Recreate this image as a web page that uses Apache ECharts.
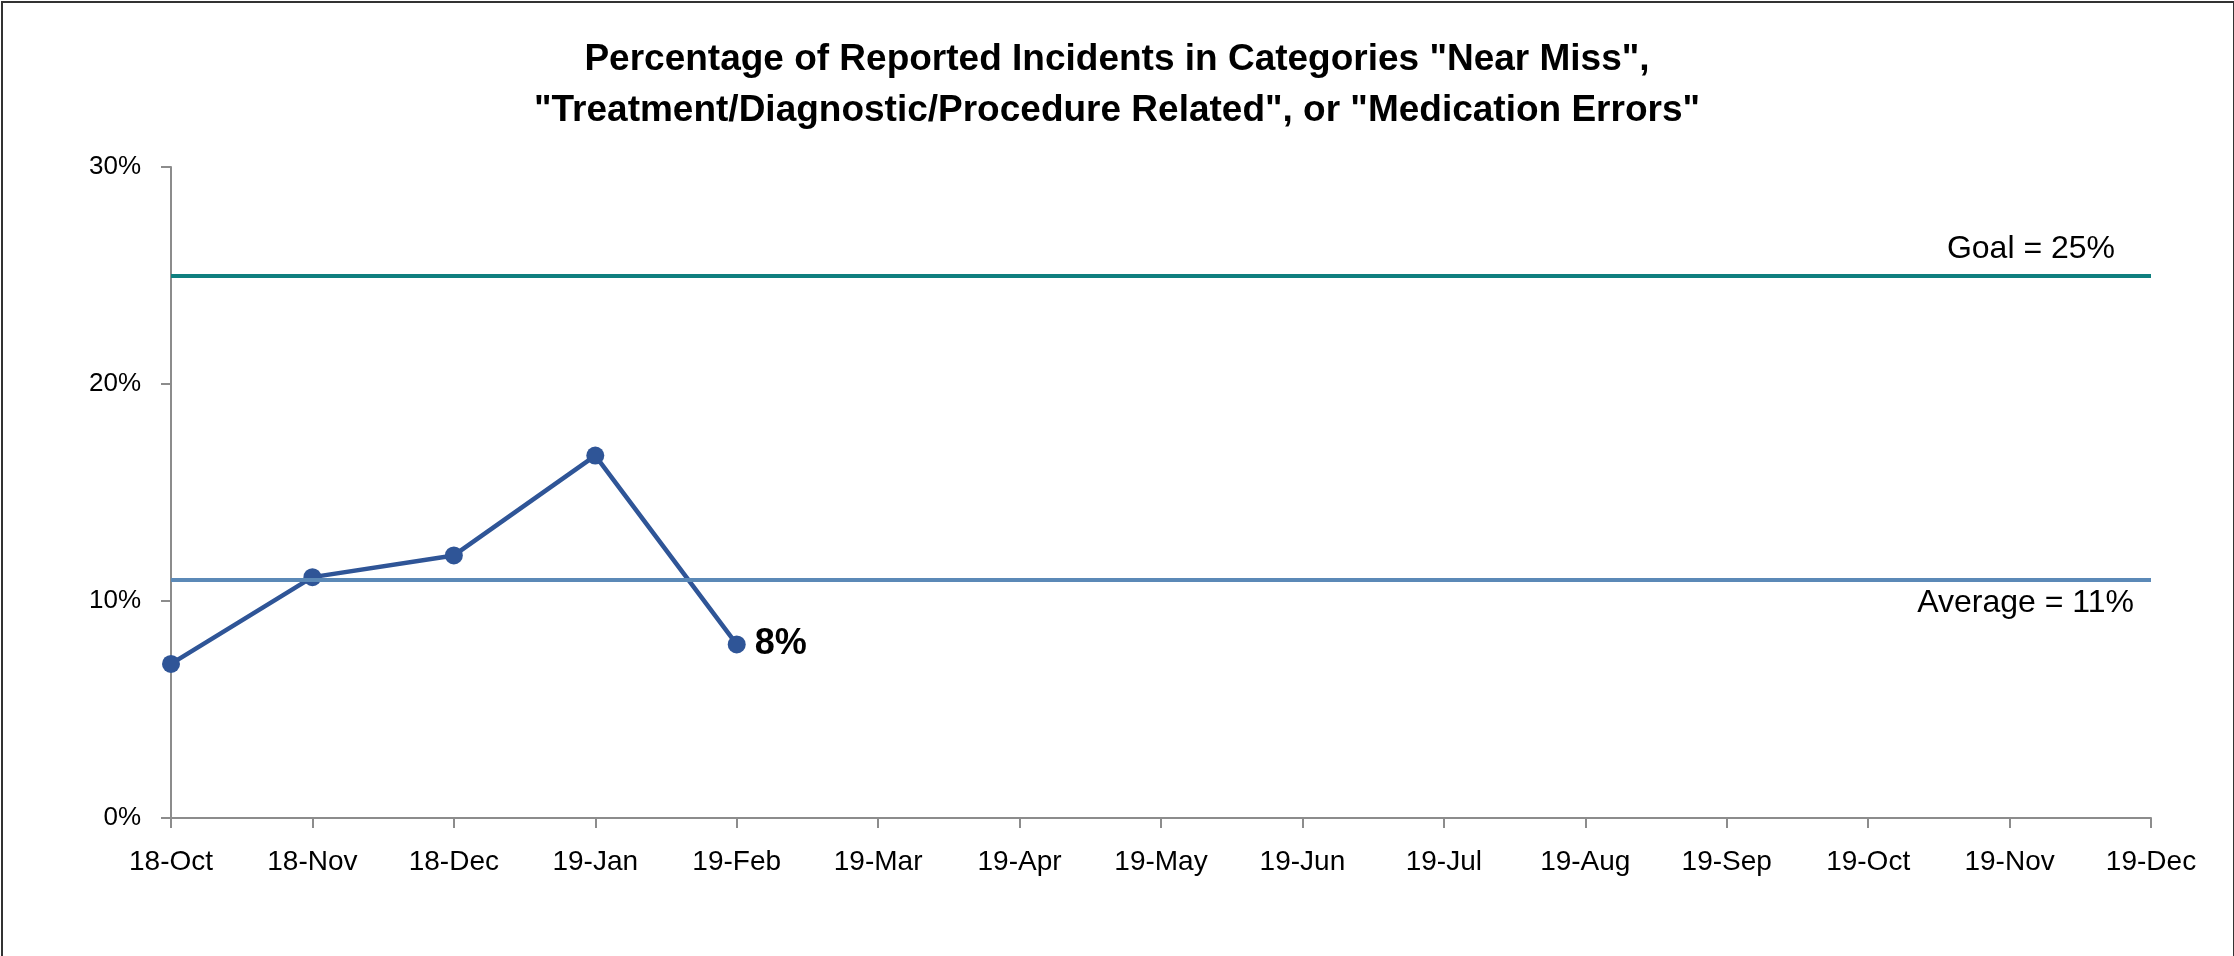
<!DOCTYPE html>
<html>
<head>
<meta charset="utf-8">
<script src="https://cdn.jsdelivr.net/npm/echarts@6/dist/echarts.min.js"></script>
<style>
html, body { margin: 0; padding: 0; background: #fff; overflow: hidden; }
.frame {
	position: absolute;
	left: 1px;
	top: 1px;
	width: 2230px;
	height: 960px;
	border: 2px solid #333;
	border-bottom: none;
}
#chart { position: absolute; left: 0; top: 0; width: 2234px; height: 956px; }
</style>
</head>
<body>
<div class="frame"></div>
<div id="chart"></div>
<script>
// data
var months = ['18-Oct', '18-Nov', '18-Dec', '19-Jan', '19-Feb', '19-Mar', '19-Apr', '19-May',
	'19-Jun', '19-Jul', '19-Aug', '19-Sep', '19-Oct', '19-Nov', '19-Dec'];
var pct = [7.1, 11.1, 12.1, 16.7, 8.0];
var goal = 25;
var average = 11;

var chartDom = document.getElementById('chart');
var myChart = echarts.init(chartDom);
var option;
var font = '"Liberation Sans", Arial, sans-serif';

option = {
	animation: false,
	title: {
		text: 'Percentage of Reported Incidents in Categories "Near Miss",\n"Treatment/Diagnostic/Procedure Related", or "Medication Errors"',
		left: 'center',
		top: 29,
		textStyle: {
			fontFamily: font,
			fontWeight: 'bold',
			fontSize: 37,
			lineHeight: 51,
			color: '#000',
		},
	},
	grid: {
		left: 171,
		right: 83,
		top: 167,
		bottom: 138,
	},
	xAxis: {
		type: 'category',
		data: months,
		boundaryGap: false,
		axisLine: { lineStyle: { color: '#8c8c8c', width: 2 } },
		axisTick: { length: 10, lineStyle: { color: '#8c8c8c', width: 2 } },
		axisLabel: {
			margin: 30,
			fontFamily: font,
			fontSize: 28,
			color: '#000',
			interval: 0,
		},
	},
	yAxis: {
		type: 'value',
		min: 0,
		max: 30,
		interval: 10,
		splitLine: { show: false },
		axisLine: { show: true, lineStyle: { color: '#8c8c8c', width: 2 } },
		axisTick: { show: true, length: 10, lineStyle: { color: '#8c8c8c', width: 2 } },
		axisLabel: {
			margin: 30,
			fontFamily: font,
			fontSize: 26,
			color: '#000',
			formatter: '{value}%',
		},
	},
	series: [
		{
			type: 'line',
			data: pct,
			symbol: 'circle',
			symbolSize: 18,
			lineStyle: { color: '#2f5597', width: 4.5 },
			itemStyle: { color: '#2f5597' },
			label: {
				show: true,
				position: 'right',
				distance: 9,
				fontFamily: font,
				fontWeight: 'bold',
				fontSize: 36,
				color: '#000',
				formatter: function (p) {
					return p.dataIndex === pct.length - 1 ? Math.round(p.value) + '%' : '';
				},
			},
			markLine: {
				silent: true,
				symbol: 'none',
				data: [
					{
						yAxis: goal,
						lineStyle: { color: '#0f7f7f', width: 4, type: 'solid' },
						label: {
							position: 'insideEndTop',
							distance: [36, 10],
							formatter: 'Goal = ' + goal + '%',
						},
					},
					{
						yAxis: average,
						lineStyle: { color: '#5b89b7', width: 4, type: 'solid' },
						label: {
							position: 'insideEndBottom',
							distance: [17, 8],
							formatter: 'Average = ' + average + '%',
						},
					},
				],
				label: {
					fontFamily: font,
					fontSize: 32,
					color: '#000',
				},
			},
		},
	],
};
myChart.setOption(option);
</script>
</body>
</html>
